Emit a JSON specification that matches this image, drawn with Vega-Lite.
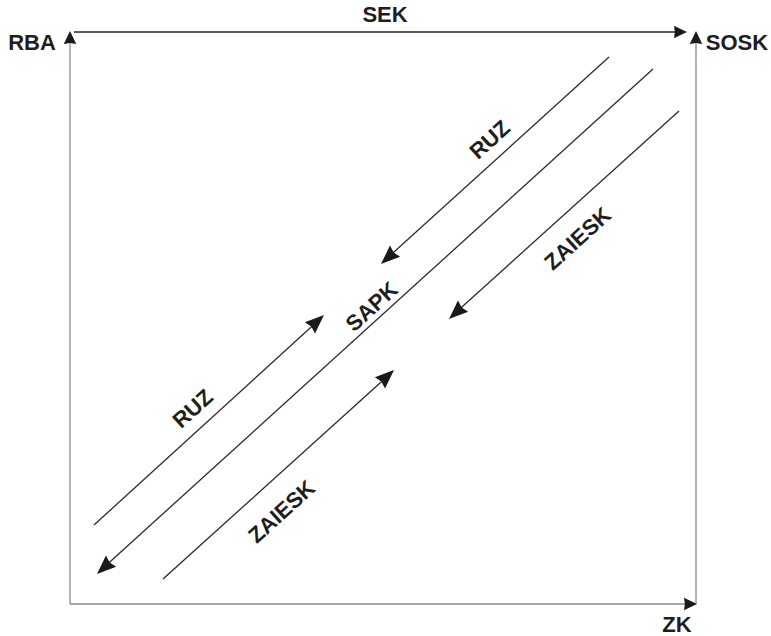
{
  "$schema": "https://vega.github.io/schema/vega-lite/v6.json",
  "width": 771,
  "height": 636,
  "padding": 0,
  "autosize": {"type": "fit", "contains": "padding"},
  "background": "white",
  "config": {"view": {"stroke": null}},
  "datasets": {
    "lines": [
      {"name": "SEK", "edge": "top", "x": 74, "y": 32, "x2": 684, "y2": 32},
      {"name": "RBA", "edge": "left", "x": 70, "y": 604, "x2": 70, "y2": 36},
      {"name": "SOSK", "edge": "right", "x": 696, "y": 604, "x2": 696, "y2": 36},
      {"name": "ZK", "edge": "bottom", "x": 70, "y": 604, "x2": 694, "y2": 604},
      {"name": "RUZ out", "edge": "flow", "x": 609, "y": 57, "x2": 384, "y2": 261},
      {"name": "SAPK", "edge": "flow", "x": 653, "y": 69, "x2": 101, "y2": 570},
      {"name": "ZAIESK out", "edge": "flow", "x": 679, "y": 111, "x2": 453, "y2": 315},
      {"name": "RUZ in", "edge": "flow", "x": 94, "y": 525, "x2": 320, "y2": 319},
      {"name": "ZAIESK in", "edge": "flow", "x": 163, "y": 579, "x2": 390, "y2": 374}
    ],
    "arrows": [
      {"name": "SEK", "kind": "frame", "dir": "right", "x": 687, "y": 32},
      {"name": "RBA", "kind": "frame", "dir": "up", "x": 70, "y": 31},
      {"name": "SOSK", "kind": "frame", "dir": "up", "x": 696, "y": 31},
      {"name": "ZK", "kind": "frame", "dir": "right", "x": 697, "y": 604},
      {"name": "RUZ out", "kind": "flow", "dir": "downleft", "x": 381, "y": 264},
      {"name": "SAPK", "kind": "flow", "dir": "downleft", "x": 97, "y": 574},
      {"name": "ZAIESK out", "kind": "flow", "dir": "downleft", "x": 449, "y": 319},
      {"name": "RUZ in", "kind": "flow", "dir": "upright", "x": 324, "y": 315},
      {"name": "ZAIESK in", "kind": "flow", "dir": "upright", "x": 394, "y": 370}
    ],
    "labels": [
      {"text": "RBA", "kind": "frame", "x": 32, "y": 43},
      {"text": "SOSK", "kind": "frame", "x": 737, "y": 43},
      {"text": "SEK", "kind": "frame", "x": 385, "y": 15},
      {"text": "ZK", "kind": "frame", "x": 677, "y": 625},
      {"text": "RUZ", "kind": "flow", "x": 490, "y": 140},
      {"text": "ZAIESK", "kind": "flow", "x": 578, "y": 239},
      {"text": "SAPK", "kind": "flow", "x": 372, "y": 307},
      {"text": "RUZ", "kind": "flow", "x": 193, "y": 409},
      {"text": "ZAIESK", "kind": "flow", "x": 282, "y": 512}
    ]
  },
  "encoding": {
    "x": {"field": "x", "type": "quantitative", "scale": {"domain": [0, 771], "nice": false, "zero": false}, "axis": null},
    "y": {"field": "y", "type": "quantitative", "scale": {"domain": [0, 636], "nice": false, "zero": false, "reverse": true}, "axis": null}
  },
  "layer": [
    {
      "data": {"name": "lines"},
      "mark": {"type": "rule", "strokeWidth": 1.3},
      "encoding": {
        "x2": {"field": "x2"},
        "y2": {"field": "y2"},
        "color": {
          "field": "edge",
          "type": "nominal",
          "scale": {"domain": ["top", "left", "right", "bottom", "flow"], "range": ["#222222", "#8a8a8a", "#8a8a8a", "#8a8a8a", "#2a2a2a"]},
          "legend": null
        }
      }
    },
    {
      "data": {"name": "arrows"},
      "transform": [{"filter": "datum.kind === 'frame'"}],
      "mark": {"type": "point", "filled": true, "opacity": 1, "color": "#1a1a1a", "size": 300, "shape": "M0,0L-0.72,1.5L0,1.4L0.72,1.5Z"},
      "encoding": {
        "angle": {
          "condition": [
            {"test": "datum.dir === 'right'", "value": 90},
            {"test": "datum.dir === 'downleft'", "value": 227.8},
            {"test": "datum.dir === 'upright'", "value": 47.8}
          ],
          "value": 0
        }
      }
    },
    {
      "data": {"name": "arrows"},
      "transform": [{"filter": "datum.kind === 'flow'"}],
      "mark": {"type": "point", "filled": true, "opacity": 1, "color": "#1a1a1a", "size": 600, "shape": "M0,0L-0.62,1.55L0,1.4L0.62,1.55Z"},
      "encoding": {
        "angle": {
          "condition": [
            {"test": "datum.dir === 'right'", "value": 90},
            {"test": "datum.dir === 'downleft'", "value": 227.8},
            {"test": "datum.dir === 'upright'", "value": 47.8}
          ],
          "value": 0
        }
      }
    },
    {
      "data": {"name": "labels"},
      "transform": [{"filter": "datum.kind === 'frame'"}],
      "mark": {"type": "text", "font": "Liberation Sans", "fontWeight": "bold", "fontSize": 22, "color": "#1e1e1e", "align": "center", "baseline": "middle"},
      "encoding": {"text": {"field": "text"}}
    },
    {
      "data": {"name": "labels"},
      "transform": [{"filter": "datum.kind === 'flow'"}],
      "mark": {"type": "text", "font": "Liberation Sans", "fontWeight": "bold", "fontSize": 22, "color": "#1e1e1e", "align": "center", "baseline": "middle", "angle": -42.2},
      "encoding": {"text": {"field": "text"}}
    }
  ]
}
